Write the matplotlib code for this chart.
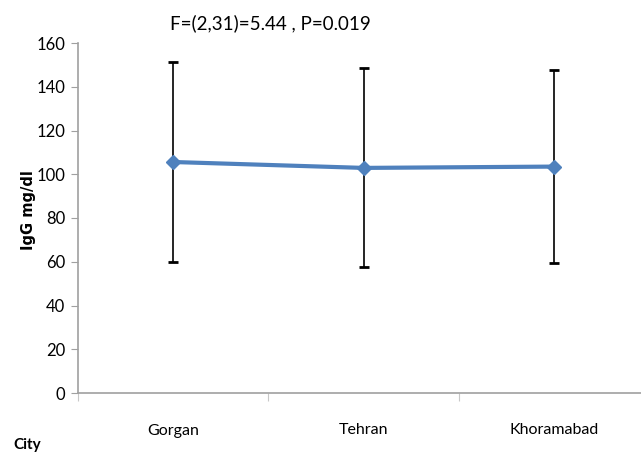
import matplotlib.pyplot as plt

# Serum IgG by city, mean with SD error bars
cities = ['Gorgan', 'Tehran', 'Khoramabad']
igg_mean = [105.6, 102.9, 103.5]
igg_sd = [45.7, 45.5, 44.1]

plt.rcParams['font.family'] = ['Lato', 'DejaVu Sans']

fig = plt.figure(figsize=(6.41, 4.54), dpi=100)
# plot area runs past the right edge of the figure
ax = fig.add_axes([78 / 641, 1 - 393 / 454, 571 / 641, 350 / 454])

x = list(range(len(cities)))
ax.errorbar(x, igg_mean, yerr=igg_sd, fmt='none', ecolor='black',
            elinewidth=1.2, capsize=3.5, capthick=2, zorder=2)
ax.plot(x, igg_mean, color='#4F81BD', lw=3, marker='D', markersize=7, zorder=3)

ax.set_ylim(0, 160)
ax.set_yticks(range(0, 161, 20))
ax.set_xlim(-0.5, 2.5)
ax.set_xticks([-0.5, 0.5, 1.5])
ax.set_xticklabels([])
for xi, name in zip(x, cities):
    ax.annotate(name, (xi, 0), xytext=(0, -27), textcoords='offset points',
                ha='center', va='center', fontsize=11.5)

for side in ['top', 'right']:
    ax.spines[side].set_visible(False)
for side in ['left', 'bottom']:
    ax.spines[side].set_color('#a0a0a0')
    ax.spines[side].set_linewidth(1.2)
ax.tick_params(axis='y', colors='#a0a0a0', labelcolor='black', labelsize=12, length=5, pad=4)
ax.tick_params(axis='x', colors='#c8c8c8', length=6, direction='out')

fig.text(29 / 641, 1 - 210 / 454, 'IgG mg/dl', rotation=90, ha='center', va='center',
         fontsize=10.5, fontweight='bold', family='DejaVu Sans')
fig.text(270 / 641, 1 - 23 / 454, 'F=(2,31)=5.44 , P=0.019', ha='center', va='center', fontsize=13.5)
fig.text(13 / 641, 1 - 445 / 454, 'City', ha='left', va='center', fontsize=11, fontweight='bold')

fig.savefig('out.png', dpi=100)
